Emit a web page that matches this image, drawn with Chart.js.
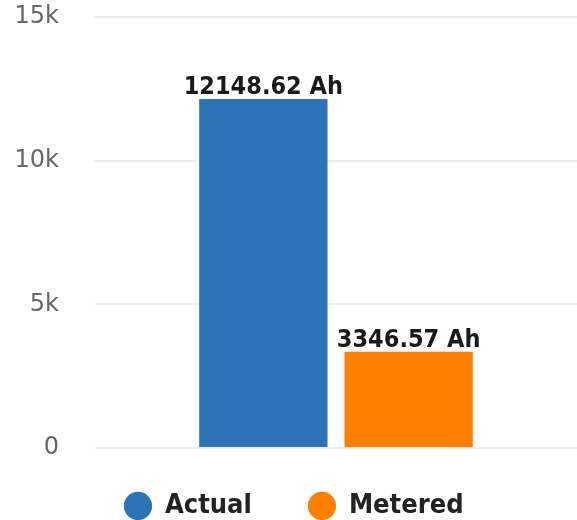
<!DOCTYPE html>
<html>
<head>
<meta charset="utf-8">
<script src="https://cdn.jsdelivr.net/npm/chart.js@4/dist/chart.umd.min.js"></script>
<style>
  html, body { margin: 0; padding: 0; background: #fff; }
  canvas { display: block; }
</style>
</head>
<body>
<canvas id="chart" width="577" height="520"></canvas>
<script>
var categories = [''];
var seriesNames = ['Actual', 'Metered'];
var actualValues = [12148.62];
var meteredValues = [3346.57];
var yTicks = [0, 5000, 10000, 15000];
var unit = ' Ah';

var labelFamily = "'DejaVu Sans Condensed', 'DejaVu Sans', sans-serif";

// draws the value over every bar
var valueLabels = {
	id: 'valueLabels',
	afterDatasetsDraw: function(chart) {
		var ctx = chart.ctx;
		ctx.save();
		ctx.font = 'bold 25px ' + labelFamily;
		ctx.fillStyle = '#1a1a1a';
		ctx.textAlign = 'center';
		ctx.textBaseline = 'alphabetic';
		chart.data.datasets.forEach(function(dataset, i) {
			var meta = chart.getDatasetMeta(i);
			meta.data.forEach(function(bar, j) {
				ctx.fillText(dataset.data[j].toFixed(2) + unit, bar.x, bar.y - 5);
			});
		});
		ctx.restore();
	}
};

var ctx = document.getElementById('chart').getContext('2d');
var chart = new Chart(ctx, {
	type: 'bar',
	data: {
		labels: categories,
		datasets: [{
			label: seriesNames[0],
			data: actualValues,
			backgroundColor: '#2d73b5'
		},
		{
			label: seriesNames[1],
			data: meteredValues,
			backgroundColor: '#ff8000'
		}]
	},
	options: {
		responsive: false,
		animation: false,
		categoryPercentage: 0.603,
		barPercentage: 0.883,
		layout: {
			padding: { top: 17, left: 11, right: 0, bottom: -9.5 }
		},
		scales: {
			x: { display: false },
			y: {
				min: 0,
				max: 15000,
				afterFit: function(scale) { scale.width = 84; },
				afterBuildTicks: function(scale) {
					scale.ticks = yTicks.map(function(v) { return { value: v }; });
				},
				border: { display: false },
				// invisible tick marks make the gap between labels and grid
				grid: { color: '#ebebeb', lineWidth: 2, drawTicks: true, tickLength: 36, tickColor: 'rgba(0,0,0,0)' },
				ticks: {
					padding: 0,
					color: '#666',
					font: { family: "'DejaVu Sans', sans-serif", size: 24 },
					callback: function(v) { return v === 0 ? '0' : (v / 1000) + 'k'; }
				}
			}
		},
		plugins: {
			tooltip: { enabled: false },
			legend: {
				position: 'bottom',
				labels: {
					usePointStyle: true,
					pointStyle: 'circle',
					boxWidth: 27,
					boxHeight: 20,
					padding: 44.5,
					color: '#222',
					font: { family: labelFamily, size: 27, weight: 'bold' },
					generateLabels: function(chart) {
						var items = Chart.defaults.plugins.legend.labels.generateLabels(chart);
						// widen the first item so the second one sits further right
						items[0].text = items[0].text + '\u2002';
						return items;
					}
				}
			}
		}
	},
	plugins: [valueLabels]
});
</script>
</body>
</html>
